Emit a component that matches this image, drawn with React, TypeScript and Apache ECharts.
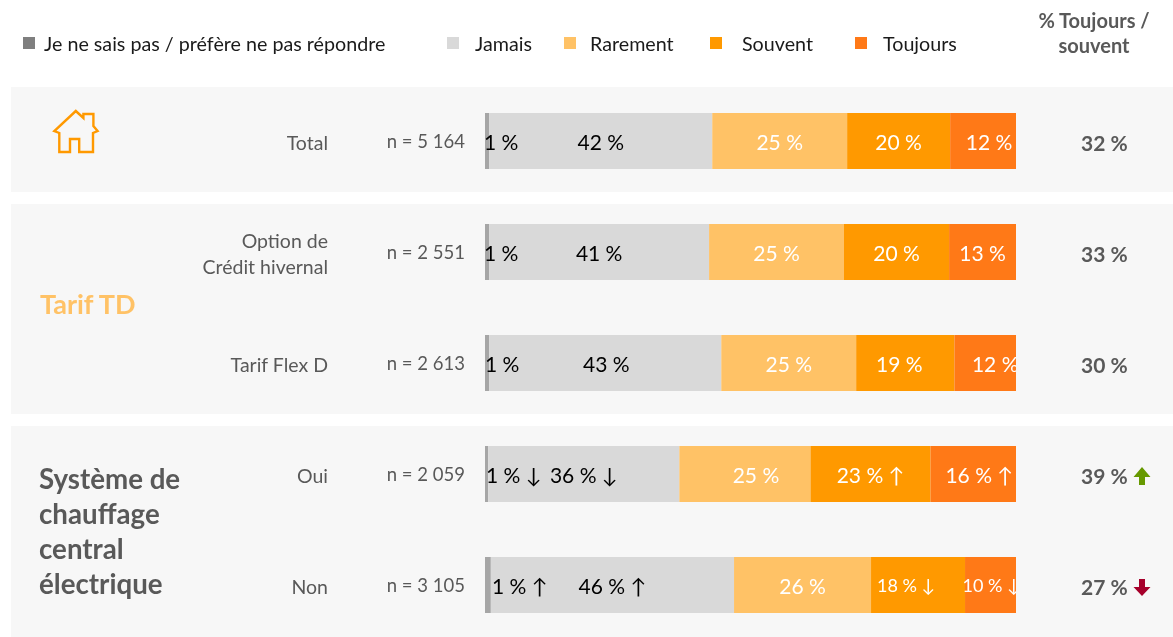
import React, { useEffect, useRef } from "react";
import * as echarts from "echarts";

const categories = ["Total", "Option de\nCrédit hivernal", "Tarif Flex D", "Oui", "Non"];
const sampleSizes = ["n = 5 164", "n = 2 551", "n = 2 613", "n = 2 059", "n = 3 105"];
const seriesNames = ["Je ne sais pas / préfère ne pas répondre", "Jamais", "Rarement", "Souvent", "Toujours"];

const dontKnow = [0.8, 0.8, 0.8, 0.6, 1.1];
const never = [42.0, 41.4, 43.7, 36.0, 45.8];
const rarely = [25.4, 25.4, 25.4, 24.7, 25.8];
const often = [19.4, 19.8, 18.5, 22.6, 17.7];
const always = [12.4, 12.6, 11.6, 16.1, 9.6];

const dontKnowLabels = ["1 %", "1 %", "1 %", "1 % ↓", "1 % ↑"];
const neverLabels = ["42 %", "41 %", "43 %", "36 % ↓", "46 % ↑"];
const rarelyLabels = ["25 %", "25 %", "25 %", "25 %", "26 %"];
const oftenLabels = ["20 %", "20 %", "19 %", "23 % ↑", "18 % ↓"];
const alwaysLabels = ["12 %", "13 %", "12 %", "16 % ↑", "10 % ↓"];
const netLabels = ["32 %", "33 %", "30 %", "39 %", "27 %"];

const FONT = "Lato, 'Liberation Sans'";
const GREY = "#595959";
const PANEL = "#f7f7f7";
const colors = ["#a6a6a6", "#d9d9d9", "#ffc266", "#ff9900", "#ff7917"];
const legendColors = ["#7f7f7f", "#d9d9d9", "#ffc266", "#ff9900", "#ff7917"];
const legendLeft = [23, 447, 564, 710, 855];
const legendTextGap = [4, 11, 9, 15, 11];

// Horizontal label nudges in pixels, one list per series, one value per row
const labelNudges = [
  [-1, -1, 0, 1, 7],
  [0, 0, 1, 0, 0],
  [0, 0, 0, 11, 0],
  [0, 0, -6, 0, -12],
  [6, 0, 10, 6, 1],
];
const clipRows = [113, 224, 335, 446, 557];

let registered = false;
function registerShapes() {
  if (registered) return;
  registered = true;
  echarts.graphic.registerShape(
    "house",
    echarts.graphic.extendPath(
      "M75.8 111 L83.4 118 L83.4 114 L93.4 114 L93.4 126 L97.6 131 L93 133 L93 152 L79.2 152 L79.2 139 L70 139 L70 152 L59.3 152 L59.3 133 L54.3 131 Z",
      {}
    )
  );
}

export default function App() {
  const ref = useRef<HTMLDivElement>(null);
  useEffect(() => {
    registerShapes();
    const chart = echarts.init(ref.current!, undefined, { renderer: "svg" });

    const buildSeries = (idx: number, values: number[], labels: string[]) => ({
      name: seriesNames[idx],
      type: "bar",
      stack: "all",
      barWidth: 56,
      xAxisIndex: 0,
      yAxisIndex: 0,
      itemStyle: { color: colors[idx] },
      label: {
        show: true,
        position: idx === 0 ? "insideLeft" : "inside",
        distance: 0,
        color: idx < 2 ? "#000000" : "#ffffff",
        fontFamily: FONT,
        fontSize: 21,
      },
      data: values.map((v, i) => ({
        value: v,
        label: {
          formatter: labels[i],
          offset: [labelNudges[idx][i], 0],
          fontSize: i === 4 && idx >= 3 ? 18 : 21,
        },
      })),
    });

    const sharedAxis = {
      type: "category",
      inverse: true,
      axisLine: { show: false },
      axisTick: { show: false },
    };

    chart.setOption({
      animation: false,
      grid: [
        { left: 485, width: 531, top: 85.5, height: 555 },
        { left: 485, width: 531, top: 86.5, height: 555 },
      ],
      legend: seriesNames.map((name, i) => ({
        left: legendLeft[i],
        top: 33,
        padding: 0,
        icon: "rect",
        itemWidth: 12,
        itemHeight: 12,
        selectedMode: false,
        data: [{ name, itemStyle: { color: legendColors[i] } }],
        textStyle: {
          fontFamily: FONT,
          fontSize: 19.7,
          color: "#1a1a1a",
          padding: [0, 0, 4, legendTextGap[i]],
        },
      })),
      xAxis: [
        { type: "value", gridIndex: 0, min: 0, max: 100, show: false },
        { type: "value", gridIndex: 1, min: 0, max: 100, show: false },
      ],
      yAxis: [
        {
          ...sharedAxis,
          gridIndex: 0,
          position: "left",
          data: sampleSizes,
          axisLabel: {
            margin: 20,
            align: "right",
            color: GREY,
            fontFamily: FONT,
            fontSize: 18.5,
          },
        },
        {
          ...sharedAxis,
          gridIndex: 1,
          position: "left",
          data: categories,
          axisLabel: {
            margin: 157,
            align: "right",
            color: GREY,
            fontFamily: FONT,
            fontSize: 19.5,
            lineHeight: 26,
          },
        },
        {
          ...sharedAxis,
          gridIndex: 1,
          position: "right",
          data: netLabels,
          axisLabel: {
            margin: 65,
            align: "left",
            color: GREY,
            fontFamily: FONT,
            fontSize: 21,
            fontWeight: "bold",
          },
        },
      ],
      series: [
        buildSeries(0, dontKnow, dontKnowLabels),
        buildSeries(1, never, neverLabels),
        buildSeries(2, rarely, rarelyLabels),
        buildSeries(3, often, oftenLabels),
        buildSeries(4, always, alwaysLabels),
      ],
      graphic: [
        { type: "rect", z: -10, shape: { x: 11, y: 87, width: 1162, height: 105 }, style: { fill: PANEL } },
        { type: "rect", z: -10, shape: { x: 11, y: 204, width: 1162, height: 210 }, style: { fill: PANEL } },
        { type: "rect", z: -10, shape: { x: 11, y: 426, width: 1162, height: 211 }, style: { fill: PANEL } },
        ...clipRows.map((y) => ({
          type: "rect",
          z: 100,
          shape: { x: 1016, y, width: 24, height: 56 },
          style: { fill: PANEL },
        })),
        { type: "house", z: 5, style: { fill: "none", stroke: "#ff9900", lineWidth: 2.4 } },
        {
          type: "text",
          z: 5,
          x: 40,
          y: 303,
          style: { text: "Tarif TD", fill: "#ffc266", font: `bold 27px ${FONT}`, verticalAlign: "middle" },
        },
        {
          type: "text",
          z: 5,
          x: 39,
          y: 461,
          style: {
            text: "Système de\nchauffage\ncentral\nélectrique",
            fill: GREY,
            font: `bold 27.7px ${FONT}`,
            lineHeight: 35,
          },
        },
        {
          type: "text",
          z: 5,
          x: 1094,
          y: 7,
          style: {
            text: "% Toujours /\nsouvent",
            fill: GREY,
            font: `bold 20px ${FONT}`,
            lineHeight: 25,
            align: "center",
          },
        },
        {
          type: "polygon",
          z: 5,
          shape: { points: [[1142, 467], [1150.5, 477], [1145, 477], [1145, 485], [1139, 485], [1139, 477], [1133.5, 477]] },
          style: { fill: "#669900" },
        },
        {
          type: "polygon",
          z: 5,
          shape: { points: [[1142, 596], [1150.5, 587], [1145, 587], [1145, 579], [1139, 579], [1139, 587], [1133.5, 587]] },
          style: { fill: "#a6002b" },
        },
      ],
    });
    return () => chart.dispose();
  }, []);
  return <div ref={ref} style={{ position: "fixed", left: 0, top: 0, width: 1173, height: 660 }} />;
}
